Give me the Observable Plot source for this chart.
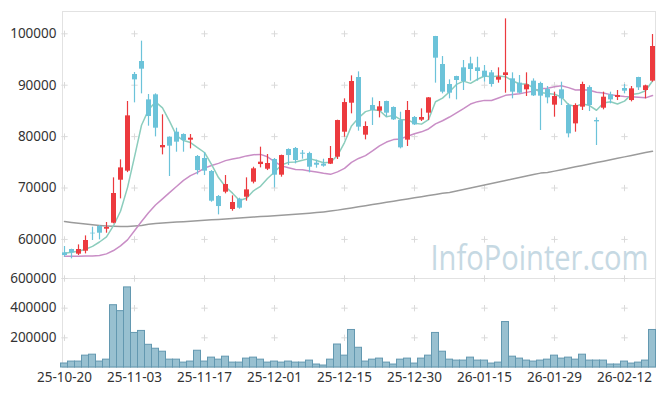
<!DOCTYPE html>
<html>
<head>
<meta charset="utf-8">
<script src="https://cdn.jsdelivr.net/npm/d3@7"></script>
<script src="https://cdn.jsdelivr.net/npm/@observablehq/plot@0.6"></script>
<style>
  html, body { margin: 0; padding: 0; background: #fff; }
  #chart { position: relative; width: 665px; height: 396px; }
  #chart svg { position: absolute; left: 0; }
</style>
</head>
<body>
<div id="chart"></div>
<script>
const dates = [
  "25-10-20","25-10-21","25-10-22","25-10-23","25-10-24","25-10-27","25-10-28","25-10-29","25-10-30","25-10-31",
  "25-11-03","25-11-04","25-11-05","25-11-06","25-11-07","25-11-10","25-11-11","25-11-12","25-11-13","25-11-14",
  "25-11-17","25-11-18","25-11-19","25-11-20","25-11-21","25-11-24","25-11-25","25-11-26","25-11-27","25-11-28",
  "25-12-01","25-12-02","25-12-03","25-12-04","25-12-05","25-12-08","25-12-09","25-12-10","25-12-11","25-12-12",
  "25-12-15","25-12-16","25-12-17","25-12-18","25-12-19","25-12-22","25-12-23","25-12-24","25-12-26","25-12-29",
  "25-12-30","26-01-02","26-01-05","26-01-06","26-01-07","26-01-08","26-01-09","26-01-12","26-01-13","26-01-14",
  "26-01-15","26-01-16","26-01-19","26-01-20","26-01-21","26-01-22","26-01-23","26-01-26","26-01-27","26-01-28",
  "26-01-29","26-01-30","26-02-02","26-02-03","26-02-04","26-02-05","26-02-06","26-02-09","26-02-10","26-02-11",
  "26-02-12","26-02-13","26-02-19","26-02-20","26-02-23"
];
const open = [57390,58040,57130,57710,61210,62510,61990,63160,71520,73280,
  92080,94610,87150,88130,77820,79890,80860,80410,79310,76130,
  75740,73210,68350,69190,65820,67830,68220,71140,74570,73660,
  75550,72500,77490,77690,76780,76710,74830,74640,74640,76000,
  80860,86500,91500,80280,86050,84950,86830,85660,83130,79310,
  83720,83200,84560,99480,94030,90140,91690,93380,94160,93380,
  92730,92410,90980,91890,91240,90400,89100,90790,90330,89160,
  86120,89100,86050,82480,85730,89550,83130,85530,88130,87610,
  89360,87020,91500,88970,90790];
const high = [58620,58100,58940,60690,62380,62700,63290,71980,75480,86830,
  92470,98570,88190,88320,84240,79950,81640,80540,80410,76320,
  76910,73400,68540,72430,68480,68020,71980,74050,77950,76520,
  75740,76400,77620,77880,77300,76970,75420,75610,78080,83200,
  87350,91820,92600,82870,87540,86830,86900,85790,84750,86830,
  83910,85400,87600,99500,95580,91040,91750,94810,95450,95450,
  93830,92860,93380,102910,92410,91890,92410,91240,90590,89750,
  88650,90590,86380,86380,90590,89880,83650,88650,88650,88970,
  90140,89750,91550,90010,99860];
const low = [56540,56220,56870,57190,59790,59920,61210,63030,67890,73000,
  86570,88320,82030,79950,76450,72240,76970,76970,77620,72560,
  72430,67240,64780,68870,65490,65880,67440,70810,73920,73400,
  70030,72110,74380,74700,75610,72950,73860,74050,74570,75550,
  79890,84430,81060,79370,82160,83650,83780,83130,77620,78080,
  82160,82940,83130,90400,88320,87350,87150,88970,90790,90790,
  90590,89620,90400,88450,87350,88320,87800,87800,81190,86380,
  83780,86050,79760,80860,85080,84880,78270,85210,86380,87020,
  88320,86760,88970,87350,90590];
const close = [56870,57400,58040,59790,61080,61210,62320,68930,73920,84040,
  91040,93120,83910,81640,78270,78140,78920,79240,79700,73400,
  73280,67440,66400,70680,67180,66080,69640,73730,75030,74770,
  72500,76320,76320,75350,76580,74050,74440,74250,75740,83130,
  86630,90720,81840,81970,85080,85790,84560,83260,77820,85080,
  82290,83720,87540,95260,88650,88450,90920,90720,93060,92670,
  91560,90140,91560,92410,88650,88450,90070,87930,87870,87540,
  87800,87350,80540,86050,90140,86050,82870,87670,87150,88000,
  88840,89290,89490,89880,97530];
const volume = [27000,40000,40000,80000,86500,40000,53000,420000,380000,540000,
  233000,246500,153000,126500,106500,53000,53000,33000,40000,113000,
  40000,66600,53000,73000,33000,33000,60000,66600,53000,33000,
  40000,33000,40000,33000,33000,46600,20000,13300,53000,155000,
  80000,253000,133000,40000,53000,60000,33000,20000,53000,60000,
  26500,60000,80000,233000,106500,53000,46600,46600,66600,46600,
  46600,26500,33000,306500,73000,60000,46600,40000,46600,53000,
  80000,60000,66600,53000,86500,46600,46600,46600,20000,20000,
  40000,26500,33000,46600,253000];
const ma5 = [57320,57520,57710,58100,58640,59500,60490,62670,65490,70080,
  76050,82210,85210,86750,85600,83020,80180,79240,78850,77880,
  76910,74610,72040,70240,69000,67560,68000,69460,70330,71850,
  73130,74470,74990,75050,75410,75720,75350,74930,75010,76320,
  78840,82090,83610,84860,85250,85080,83850,84130,83300,83300,
  82600,82430,83290,86780,87490,88720,90160,90800,90360,91160,
  91790,91630,91800,91670,90860,90240,90230,89500,88590,88370,
  88240,87700,86220,85860,86380,86030,85130,86560,86780,86350,
  86910,88190,88370,88920,90820];
const ma20 = [56740,56740,56740,56800,56800,56870,57190,57840,58750,59920,
  61700,63500,65200,66700,67900,69100,70300,71500,72400,73050,
  73870,74370,74790,75330,75640,75880,76250,76490,76540,76080,
  75150,74310,73930,73620,73540,73330,73110,72860,72660,73150,
  73810,74980,75750,76310,77210,78190,78940,79420,79560,80070,
  80560,80930,81490,82490,83090,83810,84640,85460,86330,86800,
  87050,87020,87510,88030,88210,88340,88610,88850,89300,89420,
  89700,89880,89530,89070,89140,89020,88620,88470,88170,87940,
  87800,87760,87670,87540,87990];
const ma60 = [63480,63300,63130,62980,62850,62720,62620,62550,62500,62520,
  62600,62700,62950,63100,63200,63280,63370,63460,63550,63640,
  63730,63820,63900,63990,64080,64170,64260,64350,64440,64530,
  64620,64710,64800,64900,65000,65110,65230,65360,65520,65700,
  65900,66120,66340,66560,66780,67000,67220,67440,67660,67880,
  68100,68320,68540,68760,68980,69150,69440,69730,70020,70310,
  70600,70890,71180,71470,71760,72050,72340,72620,72900,73000,
  73290,73570,73850,74120,74400,74680,74950,75230,75510,75780,
  76060,76340,76610,76890,77170];
const xTickIndex = [0,10,20,30,40,50,60,70,80];
const priceTicks = [60000,70000,80000,90000,100000];
const volumeTicks = [200000,400000,600000];
const watermark = "InfoPointer.com";

const rows = dates.map((d, i) => ({
  i, date: d, open: open[i], high: high[i], low: low[i], close: close[i],
  volume: volume[i], ma5: ma5[i], ma20: ma20[i], ma60: ma60[i],
  up: close[i] >= open[i]
}));

const UP = "#ec3a3e", DOWN = "#6cc3d9";
const FONT = "'Noto Sans', sans-serif";
const xDomain = [-0.5, 84.5], xRange = [60.5, 655.5];
const priceCross = xTickIndex.flatMap(i => priceTicks.map(v => ({i, v})));
const volCross = xTickIndex.flatMap(i => volumeTicks.map(v => ({i, v})));

const price = Plot.plot({
  width: 665, height: 278,
  marginLeft: 62, marginRight: 10, marginTop: 11, marginBottom: 0,
  x: {type: "linear", domain: xDomain, range: xRange, axis: null},
  y: {domain: [52400, 104340], axis: null},
  style: {fontFamily: FONT, fontSize: "13.5px", color: "#333", background: "transparent", overflow: "visible"},
  marks: [
    Plot.frame({stroke: "#e2e2e2"}),
    Plot.dot(priceCross, {x: "i", y: "v", symbol: "plus", r: 2.2, stroke: "#dadada", strokeWidth: 1}),
    Plot.text([watermark], {frameAnchor: "bottom-right", text: d => d, dx: -7, dy: -9,
      fontSize: 34, fill: "#c6d9e3", fontFamily: "'Open Sans', sans-serif", textAnchor: "end", lineAnchor: "bottom", className: "wm"}),
    Plot.line(rows, {x: "i", y: "ma60", stroke: "#9b9b9b", strokeWidth: 1.5}),
    Plot.line(rows, {x: "i", y: "ma20", stroke: "#c98ec6", strokeWidth: 1.5}),
    Plot.line(rows, {x: "i", y: "ma5", stroke: "#8ccdbd", strokeWidth: 1.5}),
    Plot.ruleX(rows, {x: "i", y1: "low", y2: "high", stroke: d => d.up ? UP : DOWN, strokeWidth: 1.2}),
    Plot.ruleX(rows, {x: "i", y1: "open", y2: "close", stroke: d => d.up ? UP : DOWN, strokeWidth: 5}),
    Plot.axisY({ticks: priceTicks, tickFormat: d => String(d), tickSize: 0, tickPadding: 6, label: null})
  ]
});

const vol = Plot.plot({
  width: 665, height: 126,
  marginLeft: 62, marginRight: 10, marginTop: 8, marginBottom: 29,
  x: {type: "linear", domain: xDomain, range: xRange, axis: null},
  y: {domain: [0, 600000], axis: null},
  style: {fontFamily: FONT, fontSize: "13.5px", color: "#333", background: "transparent", overflow: "visible"},
  marks: [
    Plot.frame({stroke: "#e2e2e2"}),
    Plot.dot(volCross, {x: "i", y: "v", symbol: "plus", r: 2.2, stroke: "#dadada", strokeWidth: 1}),
    Plot.rectY(rows, {x1: d => d.i - 0.5, x2: d => d.i + 0.5, y: "volume", fill: "#98c0d0", stroke: "#6398b0", strokeWidth: 1}),
    Plot.axisY({ticks: volumeTicks, tickFormat: d => String(d), tickSize: 0, tickPadding: 6, label: null}),
    Plot.axisX({ticks: xTickIndex, tickFormat: i => dates[i], tickSize: 0, tickPadding: 5, label: null})
  ]
});

const root = document.getElementById("chart");
price.style.top = "0px";
vol.style.top = "270px";
root.appendChild(price);
root.appendChild(vol);
const wm = price.querySelector(".wm text");
if (wm) { wm.setAttribute("textLength", "218"); wm.setAttribute("lengthAdjust", "spacingAndGlyphs"); }
</script>
</body>
</html>
